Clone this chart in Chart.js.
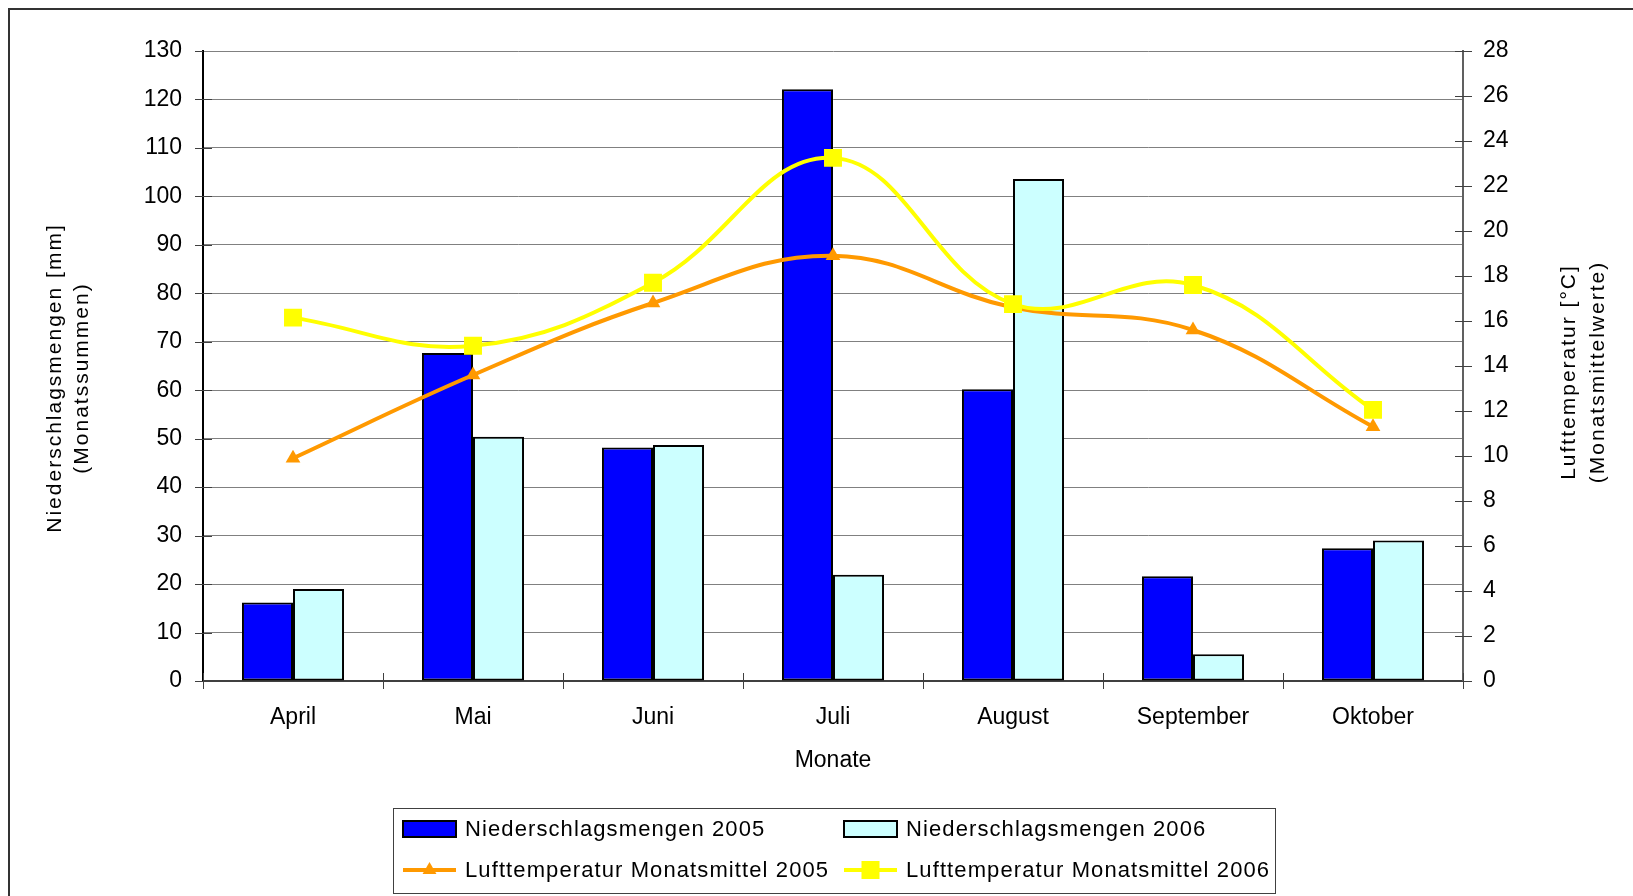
<!DOCTYPE html>
<html><head><meta charset="utf-8">
<script src="https://cdn.jsdelivr.net/npm/chart.js@4/dist/chart.umd.min.js"></script>
<style>html,body{margin:0;padding:0;background:#fff;overflow:hidden}#wrap{width:1633px;height:896px;position:relative}</style>
</head><body><div id="wrap"><canvas id="c" width="1633" height="896"></canvas></div>
<script>
const months = ['April', 'Mai', 'Juni', 'Juli', 'August', 'September', 'Oktober'];
const rain2005 = [16.2, 67.7, 48.2, 122.1, 60.2, 21.6, 27.4];
const rain2006 = [19.0, 50.4, 48.7, 21.9, 103.6, 5.5, 29.0];
const temp2005 = [9.9, 13.6, 16.8, 18.9, 16.6, 15.6, 11.3];
const temp2006 = [16.15, 14.9, 17.7, 23.25, 16.75, 17.6, 12.05];
const rainAxisTicks = [0, 10, 20, 30, 40, 50, 60, 70, 80, 90, 100, 110, 120, 130];
const tempAxisTicks = [0, 2, 4, 6, 8, 10, 12, 14, 16, 18, 20, 22, 24, 26, 28];
const labelRain2005 = 'Niederschlagsmengen 2005';
const labelRain2006 = 'Niederschlagsmengen 2006';
const labelTemp2005 = 'Lufttemperatur Monatsmittel 2005';
const labelTemp2006 = 'Lufttemperatur Monatsmittel 2006';
const titleLeft = ['Niederschlagsmengen [mm]', '(Monatssummen)'];
const titleRight = ['Lufttemperatur [°C]', '(Monatsmittelwerte)'];
const titleX = 'Monate';

const FONT = '"Liberation Sans", Arial, sans-serif';

const decor = {
  id: 'decor',
  beforeDraw(chart) {
    const ctx = chart.ctx;
    ctx.save();
    ctx.fillStyle = '#fff';
    ctx.fillRect(0, 0, chart.width, chart.height);
    ctx.restore();
  },
  afterDraw(chart) {
    const ctx = chart.ctx;
    const sx = chart.scales.x, sy = chart.scales.y, sy1 = chart.scales.y1;
    ctx.save();
    // outer frame
    ctx.strokeStyle = '#333';
    ctx.lineWidth = 2;
    ctx.beginPath();
    ctx.moveTo(9, 900); ctx.lineTo(9, 9); ctx.lineTo(1640, 9);
    ctx.stroke();
    // tick marks crossing the axes
    ctx.lineWidth = 1;
    ctx.strokeStyle = '#404040';
    ctx.beginPath();
    sy.ticks.forEach((t, i) => {
      const py = Math.round(sy.getPixelForTick(i)) + 0.5;
      ctx.moveTo(sy.right - 8, py); ctx.lineTo(sy.right + (i === sy.ticks.length - 1 ? 0 : 9), py);
    });
    sy1.ticks.forEach((t, i) => {
      const py = Math.round(sy1.getPixelForTick(i)) + 0.5;
      ctx.moveTo(sy1.left - 8, py); ctx.lineTo(sy1.left + 9, py);
    });
    for (let i = 0; i <= months.length; i++) {
      const px = Math.round(sx.getPixelForValue(i - 0.5)) + 0.5;
      ctx.moveTo(px, sx.top - 8); ctx.lineTo(px, sx.top + 8);
    }
    ctx.stroke();

    // x axis title
    ctx.fillStyle = '#000';
    ctx.textAlign = 'center';
    ctx.textBaseline = 'middle';
    ctx.font = '23px ' + FONT;
    ctx.fillText(titleX, (sx.left + sx.right) / 2, 761);

    // y axis titles
    ctx.font = '21px ' + FONT;
    ctx.letterSpacing = '2px';
    const rot = (txt, x, y) => {
      ctx.save(); ctx.translate(x, y); ctx.rotate(-Math.PI / 2); ctx.fillText(txt, 0, 0); ctx.restore();
    };
    rot(titleLeft[0], 55, 378);
    rot(titleLeft[1], 82, 378);
    rot(titleRight[0], 1569, 372);
    rot(titleRight[1], 1598, 372);

    // legend
    ctx.font = '22px ' + FONT;
    ctx.letterSpacing = '1.1px';
    const lx = 393, ly = 808, lw = 882, lh = 85;
    ctx.strokeStyle = '#404040';
    ctx.lineWidth = 1;
    ctx.strokeRect(lx + 0.5, ly + 0.5, lw, lh);
    const ds = chart.data.datasets;
    const cols = [403, 844];
    const rows = [829, 870];
    const items = [
      {d: ds[2], c: 0, r: 0}, {d: ds[3], c: 1, r: 0},
      {d: ds[1], c: 0, r: 1}, {d: ds[0], c: 1, r: 1}
    ];
    items.forEach(it => {
      const x0 = cols[it.c], yc = rows[it.r];
      const d = it.d;
      if (d.type === 'bar') {
        ctx.fillStyle = d.backgroundColor;
        ctx.fillRect(x0, yc - 8, 53, 16);
        ctx.strokeStyle = '#000'; ctx.lineWidth = 2;
        ctx.strokeRect(x0, yc - 8, 53, 16);
      } else {
        ctx.strokeStyle = d.borderColor; ctx.lineWidth = 4;
        ctx.beginPath(); ctx.moveTo(x0, yc); ctx.lineTo(x0 + 53, yc); ctx.stroke();
        ctx.fillStyle = d.pointBackgroundColor;
        const cx = x0 + 26.5;
        if (d.pointStyle === 'triangle') {
          const r = 8;
          ctx.beginPath();
          ctx.moveTo(cx, yc - r);
          ctx.lineTo(cx + r * 0.866, yc + r / 2);
          ctx.lineTo(cx - r * 0.866, yc + r / 2);
          ctx.closePath(); ctx.fill();
        } else {
          ctx.fillRect(cx - 9, yc - 9, 18, 18);
        }
      }
      ctx.fillStyle = '#000';
      ctx.textAlign = 'left';
      ctx.fillText(d.label, x0 + 62, yc + 1);
    });
    ctx.restore();
  }
};

new Chart(document.getElementById('c'), {
  data: {
    labels: months,
    datasets: [
      {
        type: 'line', label: labelTemp2006, data: temp2006, yAxisID: 'y1', order: 0,
        borderColor: '#FFFF00', backgroundColor: '#FFFF00', borderWidth: 4,
        pointStyle: 'rect', pointRadius: 12.7, pointBackgroundColor: '#FFFF00',
        pointBorderColor: '#FFFF00', pointBorderWidth: 0, tension: 0.4, fill: false
      },
      {
        type: 'line', label: labelTemp2005, data: temp2005, yAxisID: 'y1', order: 1,
        borderColor: '#FF9900', backgroundColor: '#FF9900', borderWidth: 4,
        pointStyle: 'triangle', pointRadius: 8.5, pointBackgroundColor: '#FF9900',
        pointBorderColor: '#FF9900', pointBorderWidth: 0, tension: 0.4, fill: false
      },
      {
        type: 'bar', label: labelRain2005, data: rain2005, yAxisID: 'y', order: 2,
        backgroundColor: '#0000FF', borderColor: '#000', borderWidth: 2, borderSkipped: false,
        categoryPercentage: 0.567, barPercentage: 1
      },
      {
        type: 'bar', label: labelRain2006, data: rain2006, yAxisID: 'y', order: 3,
        backgroundColor: '#CCFFFF', borderColor: '#000', borderWidth: 2, borderSkipped: false,
        categoryPercentage: 0.567, barPercentage: 1
      }
    ]
  },
  options: {
    responsive: false, animation: false, devicePixelRatio: 1,
    layout: {padding: {left: 0, right: 0, top: 51, bottom: 0}},
    plugins: {legend: {display: false}, tooltip: {enabled: false}, title: {display: false}},
    scales: {
      x: {
        type: 'category', position: 'bottom', offset: true,
        grid: {display: false, offset: true, drawTicks: false},
        border: {display: true, color: '#404040', width: 2},
        ticks: {color: '#000', font: {family: FONT, size: 23}, padding: 23, maxRotation: 0, autoSkip: false},
        title: {display: false},
        afterFit(s) { s.height = 215; }
      },
      y: {
        type: 'linear', position: 'left',
        min: rainAxisTicks[0], max: rainAxisTicks[rainAxisTicks.length - 1],
        afterBuildTicks(s) { s.ticks = rainAxisTicks.map(v => ({value: v})); },
        grid: {display: true, color: '#808080', lineWidth: 1, drawTicks: false},
        border: {display: true, color: '#000', width: 2},
        ticks: {color: '#000', font: {family: FONT, size: 23}, padding: 21},
        afterFit(s) { s.width = 203; }
      },
      y1: {
        type: 'linear', position: 'right',
        min: tempAxisTicks[0], max: tempAxisTicks[tempAxisTicks.length - 1],
        afterBuildTicks(s) { s.ticks = tempAxisTicks.map(v => ({value: v})); },
        grid: {display: false, drawTicks: false},
        border: {display: true, color: '#606060', width: 2},
        ticks: {color: '#000', font: {family: FONT, size: 23}, padding: 20},
        afterFit(s) { s.width = 170; }
      }
    }
  },
  plugins: [decor]
});
</script>
</body></html>
